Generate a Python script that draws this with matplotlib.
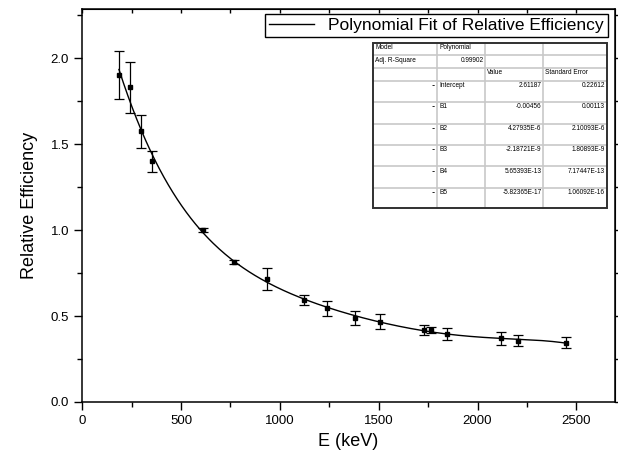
import numpy as np
import matplotlib
matplotlib.use('Agg')
import matplotlib.pyplot as plt
from matplotlib.ticker import MultipleLocator, FormatStrFormatter

plt.rcParams['font.family'] = ['Liberation Sans', 'DejaVu Sans']

# measured points (Ra-226 lines)
energy = [186, 242, 295, 352, 609, 768, 934, 1120, 1238, 1378, 1509, 1730, 1764, 1847, 2119, 2204, 2448]
rel_eff = [1.90, 1.83, 1.575, 1.40, 1.00, 0.816, 0.715, 0.595, 0.545, 0.487, 0.467, 0.419, 0.419, 0.395, 0.370, 0.357, 0.345]
rel_err = [0.14, 0.15, 0.095, 0.06, 0.01, 0.012, 0.065, 0.03, 0.045, 0.04, 0.045, 0.03, 0.02, 0.035, 0.037, 0.033, 0.033]

# fit report table text
table_rows = [
    ['Model', 'Polynomial', '', ''],
    ['Adj. R-Square', '0.99902', '', ''],
    ['', '', 'Value', 'Standard Error'],
    ['--', 'Intercept', '2.61187', '0.22612'],
    ['--', 'B1', '-0.00456', '0.00113'],
    ['--', 'B2', '4.27935E-6', '2.10093E-6'],
    ['--', 'B3', '-2.18721E-9', '1.80893E-9'],
    ['--', 'B4', '5.65393E-13', '7.17447E-13'],
    ['--', 'B5', '-5.82365E-17', '1.06092E-16'],
]

fig = plt.figure(figsize=(6.18, 4.61), dpi=100)
ax = fig.add_axes([0.133, 0.128, 0.862, 0.852])

# 5th order polynomial fit of the data
coef = np.polyfit(energy, rel_eff, 5)
xs = np.linspace(min(energy), max(energy), 300)
ax.plot(xs, np.polyval(coef, xs), color='black', lw=1.0,
        label='Polynomial Fit of Relative Efficiency')
ax.errorbar(energy, rel_eff, yerr=rel_err, fmt='s', color='black', ms=3.2,
            capsize=3.5, elinewidth=0.9, capthick=0.9)

ax.set_xlim(0, 2695)
ax.set_ylim(0, 2.285)
ax.xaxis.set_major_locator(MultipleLocator(500))
ax.xaxis.set_minor_locator(MultipleLocator(250))
ax.yaxis.set_major_locator(MultipleLocator(0.5))
ax.yaxis.set_minor_locator(MultipleLocator(0.25))
ax.yaxis.set_major_formatter(FormatStrFormatter('%.1f'))
ax.tick_params(which='major', direction='out', length=6, width=1, labelsize=9.5)
ax.tick_params(which='minor', direction='out', length=3.5, width=1)
for s in ax.spines.values():
    s.set_linewidth(1.1)

top = ax.secondary_xaxis('top')
top.xaxis.set_major_locator(MultipleLocator(250))
top.tick_params(direction='in', length=3, width=1, labeltop=False)
right = ax.secondary_yaxis('right')
right.yaxis.set_major_locator(MultipleLocator(0.5))
right.yaxis.set_minor_locator(MultipleLocator(0.25))
right.tick_params(which='both', direction='out', length=3, width=1, labelright=False)

ax.set_xlabel('E (keV)', fontsize=13, labelpad=4)
ax.set_ylabel('Relative Efficiency', fontsize=13, labelpad=9)

leg = ax.legend(loc='upper right', bbox_to_anchor=(0.987, 0.989), borderaxespad=0,
                fontsize=12.5, fancybox=False, edgecolor='black', framealpha=1,
                handlelength=2.6, borderpad=0.25)
leg.get_frame().set_linewidth(1)

# fit report table (axes fraction)
col_w = [64.4, 48, 58, 63.3]
row_h = [12.3, 12.7, 13, 21, 21.6, 21, 21.7, 21.7, 20]
aw, ah = 532.7, 393.0
x0, y0 = 0.546, 0.914
tf = ax.transAxes
tot_w = sum(col_w) / aw
tot_h = sum(row_h) / ah
ax.add_patch(plt.Rectangle((x0, y0 - tot_h), tot_w, tot_h, transform=tf,
                           facecolor='white', edgecolor='none', zorder=5))
cx = [x0]
for w in col_w:
    cx.append(cx[-1] + w / aw)
cy = [y0]
for h in row_h:
    cy.append(cy[-1] - h / ah)
for x in cx[1:-1]:
    ax.plot([x, x], [cy[0], cy[-1]], transform=tf, color='#c8c8c8', lw=1.2, zorder=6)
for y in cy[1:-1]:
    ax.plot([cx[0], cx[-1]], [y, y], transform=tf, color='#c8c8c8', lw=1.2, zorder=6)
ax.add_patch(plt.Rectangle((x0, y0 - tot_h), tot_w, tot_h, transform=tf,
                           facecolor='none', edgecolor='#303030', lw=1.4, zorder=7))
for i, row in enumerate(table_rows):
    for j, txt in enumerate(row):
        if not txt:
            continue
        right_al = (j == 0 and txt == '--') or (j >= 2 and i >= 3) or (i == 1 and j == 1)
        if right_al:
            tx, ha = cx[j + 1] - 2 / aw, 'right'
        else:
            tx, ha = cx[j] + 2 / aw, 'left'
        ax.text(tx, cy[i] - 1.5 / ah, txt, transform=tf, ha=ha, va='top',
                fontsize=4.7, zorder=8)

fig.savefig('out.png', dpi=100)
